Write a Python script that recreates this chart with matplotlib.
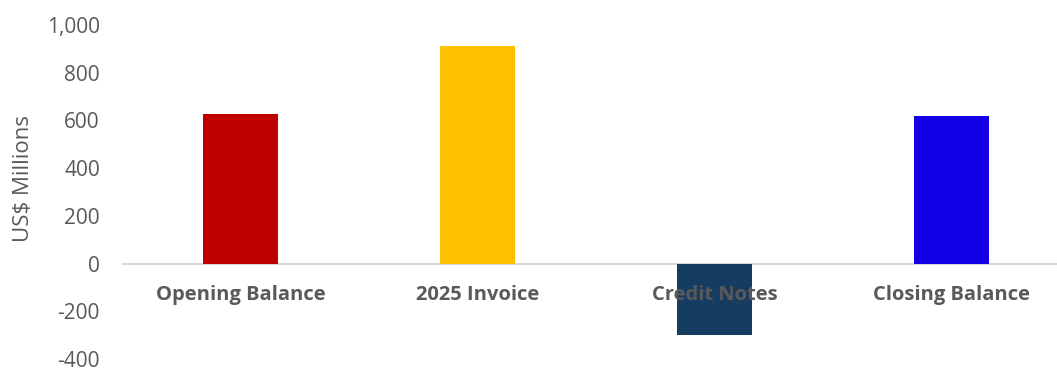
import matplotlib.pyplot as plt
from matplotlib.ticker import FuncFormatter

categories = ["Opening Balance", "2025 Invoice", "Credit Notes", "Closing Balance"]
values = [625, 911, -301, 617]
colors = ["#C00000", "#FFC000", "#173C61", "#1400E6"]

grey = "#595959"
plt.rcParams['font.family'] = ['Open Sans', 'DejaVu Sans']

fig = plt.figure(figsize=(10.57, 3.70), dpi=100)
ax = fig.add_axes([122 / 1057, 11 / 370, 1 - 122 / 1057, 334 / 370])

x = range(len(categories))
ax.bar(x, values, width=0.316, color=colors, zorder=2)
ax.axhline(0, color="#D9D9D9", lw=1.5, zorder=1)

# category names sit just under the zero line, drawn over the bars
for i, name in enumerate(categories):
    ax.annotate(name, (i, 0), xytext=(0, -31), textcoords='offset pixels',
                ha='center', va='center', fontsize=14.5, fontweight='bold',
                color=grey, zorder=3)

ax.set_xlim(-0.5, 3.445)
ax.set_ylim(-400, 1000)
ax.set_yticks(range(-400, 1001, 200))
ax.yaxis.set_major_formatter(FuncFormatter(lambda v, p: f"{v:,.0f}"))
ax.tick_params(axis='y', length=0, pad=16, labelsize=15, labelcolor=grey)
ax.set_xticks([])
for s in ax.spines.values():
    s.set_visible(False)

ax.set_ylabel("US$ Millions", fontsize=16, color=grey)
ax.yaxis.set_label_coords(-88 / 935, 0.54)

fig.savefig("out.png", dpi=100)
